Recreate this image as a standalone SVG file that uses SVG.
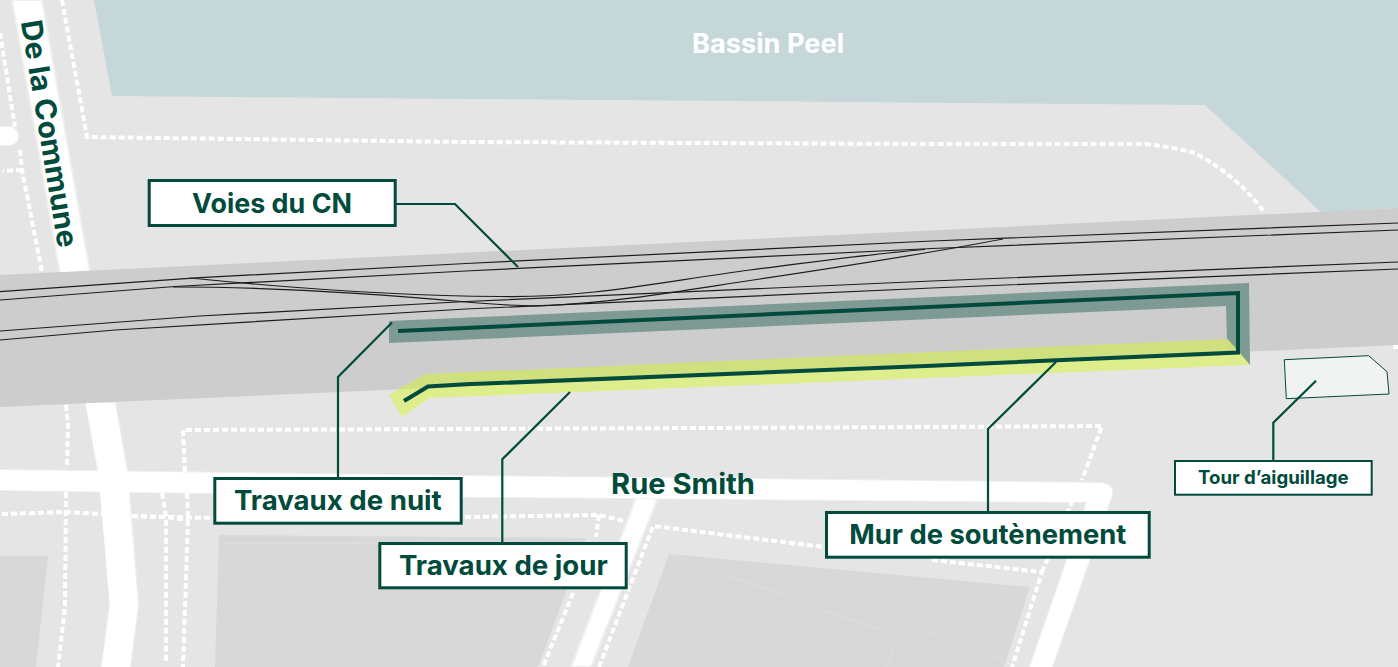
<svg xmlns="http://www.w3.org/2000/svg" width="1398" height="667" viewBox="0 0 1398 667">
<style>
.road{fill:#fff;stroke:#eef0f0;stroke-width:2}
.block{fill:#d8d8d8}
.faint{fill:none;stroke:#dfdfdf;stroke-width:1}
.walk{fill:none;stroke:#fff;stroke-width:4;stroke-dasharray:6 3}
.rail{fill:none;stroke:#1c1c1c;stroke-width:1.2}
.wall{fill:none;stroke:#004b3c;stroke-width:4;stroke-linejoin:miter}
.lead{fill:none;stroke:#004b3c;stroke-width:2.2}
.box{fill:#fff;stroke:#004b3c;stroke-width:3}
text{font-family:"Inter","Liberation Sans",sans-serif;font-weight:700;fill:#004b3c}
</style>
<rect id="ground" width="1398" height="667" fill="#e5e5e5"/>
<polygon id="water" points="94,0 112,96 1205,105 1321,212 1398,208 1398,0" fill="#c6d7da"/>
<g id="blocks">
<polygon class="block" points="0,556 48,556 36,667 0,667"/>
<polygon class="block" points="219,535 586,538 538,667 215,667"/>
<polygon class="block" points="669,554 1030,587 1004,667 628,667"/>
<path class="faint" d="M224,543H586M669,554L899,637L886,667M905,623L1004,660"/>
</g>
<g id="roads">
<polygon class="road" points="12,0 42,0 90,272 60,274"/>
<path d="M0,136H9" stroke="#fff" stroke-width="19" stroke-linecap="round" fill="none"/>
<polygon class="road" points="636,498 658,498 591,667 571,667"/>
<polygon class="road" points="85.700,403 115,403 127,472 129,490 138,605 130,667 101.700,667 110,605 101.700,490 98,470"/>
<path class="road" d="M0,470L466,476L1100,483Q1114,484 1112,495L1052,667H1030L1087,502L466,496.700L0,490Z"/>
<path d="M0,470L466,476L1100,483Q1114,484 1112,495L1052,667H1030L1087,502L466,496.700L0,490Z M85.700,403H115L127,472L138,605L130,667H101.700L110,605L98,470Z" fill="#fff"/>
</g>
<g id="walkways">
<path class="walk" d="M62,0L87,137L466,142L932,144L1145,144Q1172,147 1195,153Q1240,178 1264,212"/>
<path class="walk" d="M0,33L15,127M20,150L22,170L42,272M22,170L3,171"/>
<path class="walk" d="M66,405L68,423L67,468M66,492L65,607L58,667"/>
<path class="walk" d="M2,514L67,512L102,514M132,516L213,518L466,517L599,515L624,521M599,515L596,537M573,593L543,667"/>
<path class="walk" d="M185,472L183,430L466,429L932,427L1102,426L1082,480"/>
<path class="walk" d="M162,493L166,517V663M187,493L188,520L183,667M132,516L166,517L188,520"/>
<path class="walk" d="M599,667L653,526L824,547M932,560L1042,572L1012,667M1042,572L1072,502"/>
<path class="walk" d="M1393,347H1398"/>
</g>
<polygon id="rail-bed" points="0,275 1398,208 1398,345 0,407" fill="#cdcdcd"/>
<g id="rails">
<path class="rail" d="M0,291.700L200,277.700L466,263.500L932,241L1398,223"/>
<path class="rail" d="M0,300L175,286.500L466,271L932,248.500L1398,230"/>
<path class="rail" d="M0,331L200,316L466,301.500L932,281L1398,262"/>
<path class="rail" d="M0,340L115,330L466,309L932,288L1398,269"/>
<path class="rail" d="M190,278C290,288 400,296 500,296.500C590,298 660,282 750,270C820,261 870,254 925,249.500"/>
<path class="rail" d="M173,287C290,287 400,296 466,302C500,305 530,306.500 550,305.500C620,302 680,291 760,279C840,267 920,255 1003,239"/>
</g>
<polygon id="night-zone" points="389,321 1249,283 1250,365 1227,339 1226,306 389,343" fill="#7e9a94"/>
<polygon id="day-zone" points="389,395 425,374 1228,339 1238,350 1250,365 430,398 402,417" fill="#d7f91f" fill-opacity="0.45"/>
<polygon id="tour-footprint" points="1284.300,359.700 1368.700,355.700 1387,371.700 1389,394 1286.300,398.700" fill="#f1f3f2" stroke="#004b3c" stroke-width="1"/>
<g id="connectors">
<path class="lead" d="M396,204H455L518,267"/>
<path class="lead" d="M338,477V377L392,322.500"/>
<path class="lead" d="M502.300,542V459.300L570,392"/>
<path class="lead" d="M988,511V429L1056,362"/>
<path class="lead" d="M1273.300,460V422.700L1316,380.700"/>
</g>
<g id="walls">
<path class="wall" d="M398,331L1238,293V352.500L932,365.700L466,384.300L428,386.500L404,401"/>
</g>
<g id="label-bassin"><text x="692" y="53" font-size="27" style="fill:#fff" textLength="152" lengthAdjust="spacingAndGlyphs">Bassin Peel</text></g>
<g id="label-commune"><text transform="translate(20.700 21.700) rotate(80.600)" font-size="29" textLength="230" lengthAdjust="spacingAndGlyphs">De la Commune</text></g>
<g id="label-smith"><text x="611" y="494" font-size="29" textLength="144" lengthAdjust="spacingAndGlyphs">Rue Smith</text></g>
<g id="node-voies"><rect class="box" x="149.200" y="180.500" width="246" height="45"/><text x="192" y="212.700" font-size="27" textLength="160" lengthAdjust="spacingAndGlyphs">Voies du CN</text></g>
<g id="node-nuit"><rect class="box" x="214.800" y="478.500" width="246.400" height="44.700"/><text x="234" y="510" font-size="27" textLength="207.700" lengthAdjust="spacingAndGlyphs">Travaux de nuit</text></g>
<g id="node-jour"><rect class="box" x="379.800" y="543.500" width="246.400" height="44.300"/><text x="399" y="575" font-size="27" textLength="208.700" lengthAdjust="spacingAndGlyphs">Travaux de jour</text></g>
<g id="node-mur"><rect class="box" x="826.500" y="512.500" width="322.700" height="44.700"/><text x="849.300" y="544.300" font-size="27" textLength="277" lengthAdjust="spacingAndGlyphs">Mur de soutènement</text></g>
<g id="node-tour"><rect class="box" style="stroke-width:2" x="1175" y="461" width="196.700" height="33.700"/><text x="1198" y="484" font-size="18.500" textLength="150.700" lengthAdjust="spacingAndGlyphs">Tour d’aiguillage</text></g>
</svg>
